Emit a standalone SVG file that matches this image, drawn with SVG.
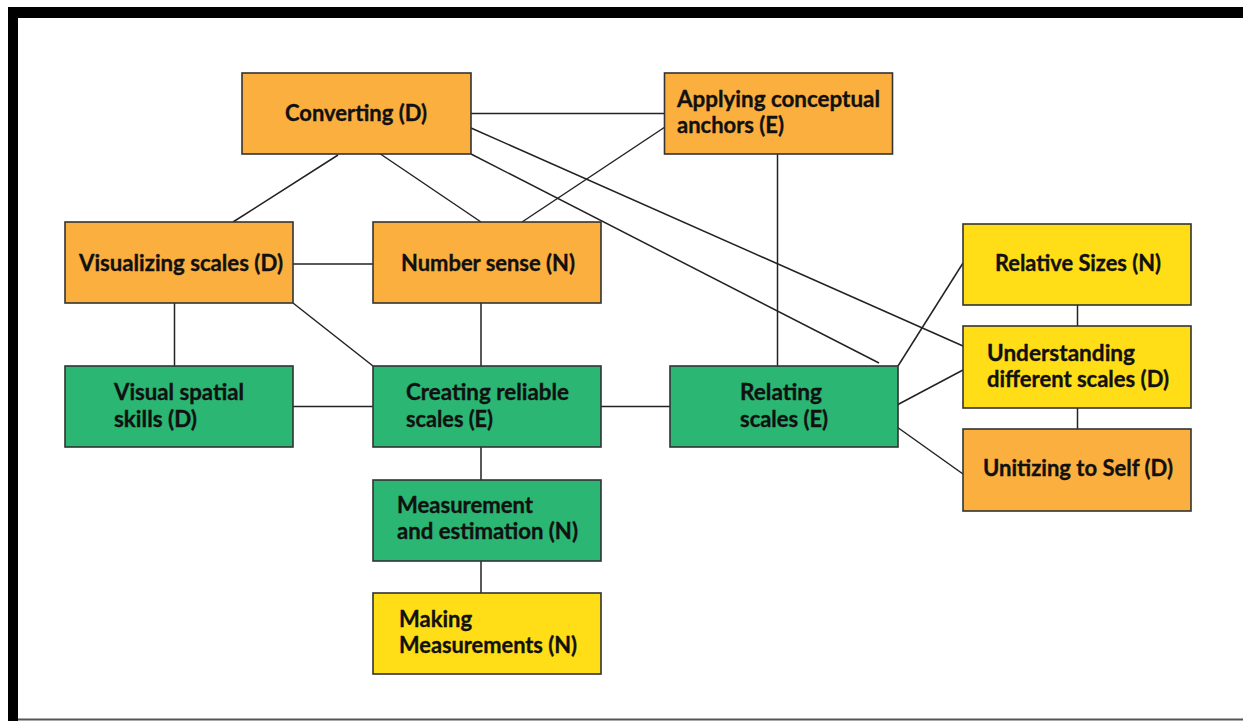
<svg xmlns="http://www.w3.org/2000/svg" width="1243" height="721" viewBox="0 0 1243 721">
<style>
.box{stroke:#333;stroke-width:1.6}
.o{fill:#FBAF3F}
.g{fill:#2BB673}
.y{fill:#FFDE17}
.t{font-family:Lato,"Open Sans","Liberation Sans",sans-serif;font-weight:bold;font-size:22.5px;fill:#111;stroke:#111;stroke-width:0.35}
.c{fill:none;stroke:#222;stroke-width:1.5}
</style>
<rect x="0" y="0" width="1243" height="721" fill="#fff"/>
<g id="frame">
<rect x="8" y="7" width="1235" height="11" fill="#000"/>
<rect x="8" y="7" width="10" height="714" fill="#000"/>
<line x1="18" y1="719.5" x2="1243" y2="719.5" stroke="#555" stroke-width="2"/>
</g>
<g id="connectors">
<line class="c" x1="471" y1="113.5" x2="665" y2="113.5"/>
<line class="c" x1="665" y1="127" x2="522" y2="222"/>
<line class="c" x1="338" y1="155" x2="233" y2="222"/>
<line class="c" x1="377.5" y1="152" x2="481" y2="222"/>
<line class="c" x1="471" y1="128" x2="963" y2="346"/>
<line class="c" x1="471" y1="154" x2="879" y2="363"/>
<line class="c" x1="777.5" y1="154" x2="777.5" y2="366"/>
<line class="c" x1="293" y1="264" x2="373" y2="264"/>
<line class="c" x1="174.5" y1="303" x2="174.5" y2="366"/>
<line class="c" x1="293" y1="303" x2="373" y2="366"/>
<line class="c" x1="481" y1="303" x2="481" y2="366"/>
<line class="c" x1="293" y1="406.5" x2="373" y2="406.5"/>
<line class="c" x1="601" y1="406.5" x2="670" y2="406.5"/>
<line class="c" x1="481" y1="447" x2="481" y2="480"/>
<line class="c" x1="481" y1="561" x2="481" y2="593"/>
<line class="c" x1="898" y1="366" x2="963" y2="263"/>
<line class="c" x1="897" y1="405" x2="963" y2="370"/>
<line class="c" x1="897" y1="427" x2="963" y2="474"/>
<line class="c" x1="1077.5" y1="305" x2="1077.5" y2="326"/>
<line class="c" x1="1077.5" y1="408" x2="1077.5" y2="429"/>
</g>
<g id="converting">
<rect class="box o" x="242" y="73" width="229" height="81"/>
<text class="t" x="285" y="121" textLength="142" lengthAdjust="spacingAndGlyphs">Converting (D)</text>
</g>
<g id="applying">
<rect class="box o" x="664.5" y="73" width="228" height="81"/>
<text class="t" x="677" y="107" textLength="203" lengthAdjust="spacingAndGlyphs">Applying conceptual</text>
<text class="t" x="677" y="133" textLength="107" lengthAdjust="spacingAndGlyphs">anchors (E)</text>
</g>
<g id="visualizing">
<rect class="box o" x="65" y="222" width="228" height="81"/>
<text class="t" x="79" y="270.5" textLength="204" lengthAdjust="spacingAndGlyphs">Visualizing scales (D)</text>
</g>
<g id="numbersense">
<rect class="box o" x="373" y="222" width="228" height="81"/>
<text class="t" x="401" y="270.5" textLength="174" lengthAdjust="spacingAndGlyphs">Number sense (N)</text>
</g>
<g id="relativesizes">
<rect class="box y" x="963" y="224" width="228" height="81"/>
<text class="t" x="995" y="271" textLength="166" lengthAdjust="spacingAndGlyphs">Relative Sizes (N)</text>
</g>
<g id="visualspatial">
<rect class="box g" x="65" y="366" width="228" height="81"/>
<text class="t" x="114" y="400" textLength="130" lengthAdjust="spacingAndGlyphs">Visual spatial</text>
<text class="t" x="114" y="427" textLength="83" lengthAdjust="spacingAndGlyphs">skills (D)</text>
</g>
<g id="creating">
<rect class="box g" x="373" y="366" width="228" height="81"/>
<text class="t" x="406" y="400" textLength="163" lengthAdjust="spacingAndGlyphs">Creating reliable</text>
<text class="t" x="406" y="427" textLength="87" lengthAdjust="spacingAndGlyphs">scales (E)</text>
</g>
<g id="relating">
<rect class="box g" x="670" y="366" width="228" height="81"/>
<text class="t" x="740" y="400" textLength="82" lengthAdjust="spacingAndGlyphs">Relating</text>
<text class="t" x="740" y="427" textLength="88" lengthAdjust="spacingAndGlyphs">scales (E)</text>
</g>
<g id="understanding">
<rect class="box y" x="963" y="326" width="228" height="82"/>
<text class="t" x="987" y="361" textLength="148" lengthAdjust="spacingAndGlyphs">Understanding</text>
<text class="t" x="987" y="387" textLength="182" lengthAdjust="spacingAndGlyphs">different scales (D)</text>
</g>
<g id="unitizing">
<rect class="box o" x="963" y="429" width="228" height="82"/>
<text class="t" x="983" y="476" textLength="190" lengthAdjust="spacingAndGlyphs">Unitizing to Self (D)</text>
</g>
<g id="measurement">
<rect class="box g" x="373" y="480" width="228" height="81"/>
<text class="t" x="397" y="513" textLength="136" lengthAdjust="spacingAndGlyphs">Measurement</text>
<text class="t" x="397" y="539" textLength="181" lengthAdjust="spacingAndGlyphs">and estimation (N)</text>
</g>
<g id="making">
<rect class="box y" x="373" y="593" width="228" height="81"/>
<text class="t" x="399" y="627" textLength="73" lengthAdjust="spacingAndGlyphs">Making</text>
<text class="t" x="399" y="653" textLength="178" lengthAdjust="spacingAndGlyphs">Measurements (N)</text>
</g>
</svg>
